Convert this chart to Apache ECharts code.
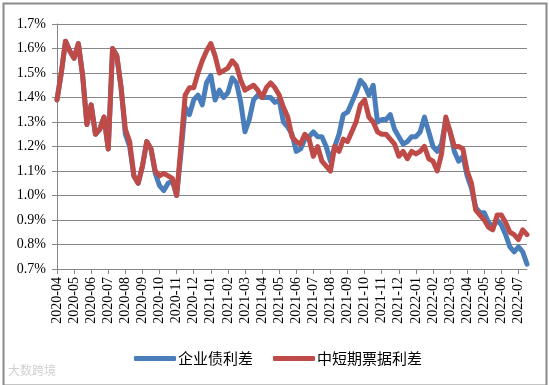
<!DOCTYPE html>
<html><head><meta charset="utf-8">
<script src="https://cdn.jsdelivr.net/npm/echarts@6/dist/echarts.min.js"></script>
<style>html,body{margin:0;padding:0;background:#fff}#c{width:549px;height:385px}</style>
</head><body><div id="c"></div>
<script>
// month labels on the x axis
const months = ['2020-04','2020-05','2020-06','2020-07','2020-08','2020-09','2020-10','2020-11','2020-12',
 '2021-01','2021-02','2021-03','2021-04','2021-05','2021-06','2021-07','2021-08','2021-09','2021-10','2021-11','2021-12',
 '2022-01','2022-02','2022-03','2022-04','2022-05','2022-06','2022-07'];
// weekly sample dates (4 per month, last month partial)
const weekDays = ['01','08','15','22'];
const dates = [];
months.forEach((m, k) => { const n = k === months.length - 1 ? 3 : 4; for (let j = 0; j < n; j++) dates.push(m + '-' + weekDays[j]); });
// 企业债利差 (%)
const corpSpread = [1.39,1.50,1.63,1.59,1.56,1.62,1.49,1.29,1.37,1.25,1.27,1.32,1.19,1.60,1.57,1.44,
 1.25,1.20,1.08,1.05,1.12,1.22,1.19,1.09,1.04,1.02,1.05,1.06,1.00,1.17,1.36,1.33,
 1.39,1.41,1.37,1.46,1.49,1.39,1.43,1.40,1.42,1.48,1.46,1.38,1.26,1.31,1.39,1.41,
 1.40,1.40,1.40,1.38,1.39,1.30,1.28,1.25,1.18,1.19,1.23,1.24,1.26,1.24,1.24,1.20,
 1.14,1.20,1.25,1.33,1.34,1.38,1.42,1.47,1.45,1.41,1.45,1.30,1.31,1.31,1.33,1.27,
 1.24,1.21,1.22,1.24,1.24,1.26,1.32,1.26,1.20,1.18,1.21,1.31,1.26,1.18,1.14,1.16,
 1.08,1.03,0.95,0.93,0.93,0.89,0.87,0.90,0.88,0.84,0.79,0.77,0.79,0.77,0.72];
// 中短期票据利差 (%)
const mtnSpread = [1.39,1.50,1.63,1.59,1.56,1.62,1.49,1.29,1.37,1.25,1.27,1.32,1.19,1.60,1.57,1.44,
 1.27,1.22,1.08,1.05,1.12,1.22,1.19,1.10,1.08,1.09,1.08,1.07,1.00,1.20,1.41,1.44,
 1.44,1.50,1.55,1.59,1.62,1.57,1.50,1.51,1.52,1.55,1.53,1.47,1.43,1.44,1.45,1.43,
 1.40,1.44,1.46,1.44,1.41,1.36,1.32,1.24,1.22,1.21,1.25,1.23,1.16,1.20,1.14,1.12,
 1.10,1.20,1.18,1.23,1.22,1.26,1.30,1.37,1.39,1.32,1.30,1.26,1.25,1.25,1.23,1.21,
 1.16,1.18,1.15,1.18,1.17,1.18,1.20,1.15,1.14,1.10,1.17,1.32,1.26,1.20,1.20,1.19,
 1.10,1.05,0.94,0.92,0.90,0.87,0.86,0.92,0.92,0.89,0.85,0.84,0.82,0.86,0.84];
const seriesNames = ['企业债利差','中短期票据利差'];
const colors = ['#4A7EBB','#BE4B48'];

const chart = echarts.init(document.getElementById('c'), null, {renderer:'canvas'});
const isMonthStart = (idx) => dates[idx].endsWith('-01');
chart.setOption({
  animation:false,
  backgroundColor:'#fff',
  grid:{left:57, right:22, top:24, bottom:116, containLabel:false},
  xAxis:{
    type:'category', data:dates, boundaryGap:false,
    axisLine:{lineStyle:{color:'#868686', width:1}},
    axisTick:{show:true, interval:(i)=>isMonthStart(i), length:5, lineStyle:{color:'#868686'}},
    axisLabel:{interval:(i)=>isMonthStart(i), rotate:90, margin:8, formatter:(v)=>v.slice(0,7),
      fontFamily:'Liberation Serif', fontSize:14, color:'#000'},
    splitLine:{show:false}
  },
  yAxis:{
    type:'value', min:0.7, max:1.7, interval:0.1,
    axisLine:{show:true, lineStyle:{color:'#868686'}},
    axisTick:{show:true, length:5, lineStyle:{color:'#868686'}},
    axisLabel:{formatter:(v)=>v.toFixed(1)+'%', fontFamily:'Liberation Serif', fontSize:14, color:'#000', margin:11},
    splitLine:{lineStyle:{color:'#868686', width:1}}
  },
  legend:{
    left:129, top:346, itemWidth:42, itemHeight:5, itemGap:20, icon:'roundRect',
    textStyle:{fontFamily:'Noto Sans CJK SC', fontSize:15, color:'#000', padding:[0,0,0,-3]},
    data:seriesNames
  },
  series:[
    {name:seriesNames[0], type:'line', data:corpSpread, showSymbol:false, symbol:'none',
     lineStyle:{color:colors[0], width:5, cap:'round', join:'round'}, itemStyle:{color:colors[0]}, z:2},
    {name:seriesNames[1], type:'line', data:mtnSpread, showSymbol:false, symbol:'none',
     lineStyle:{color:colors[1], width:5, cap:'round', join:'round'}, itemStyle:{color:colors[1]}, z:3}
  ],
  graphic:[
    {type:'rect', left:1, top:1, shape:{width:543, height:382}, style:{fill:'none', stroke:'#8a8a8a', lineWidth:2}, silent:true},
    {type:'text', left:8, top:364, style:{text:'大数跨境', fill:'#d0d0d0', font:'12px "Noto Sans CJK SC"'}, silent:true}
  ]
});
</script></body></html>
